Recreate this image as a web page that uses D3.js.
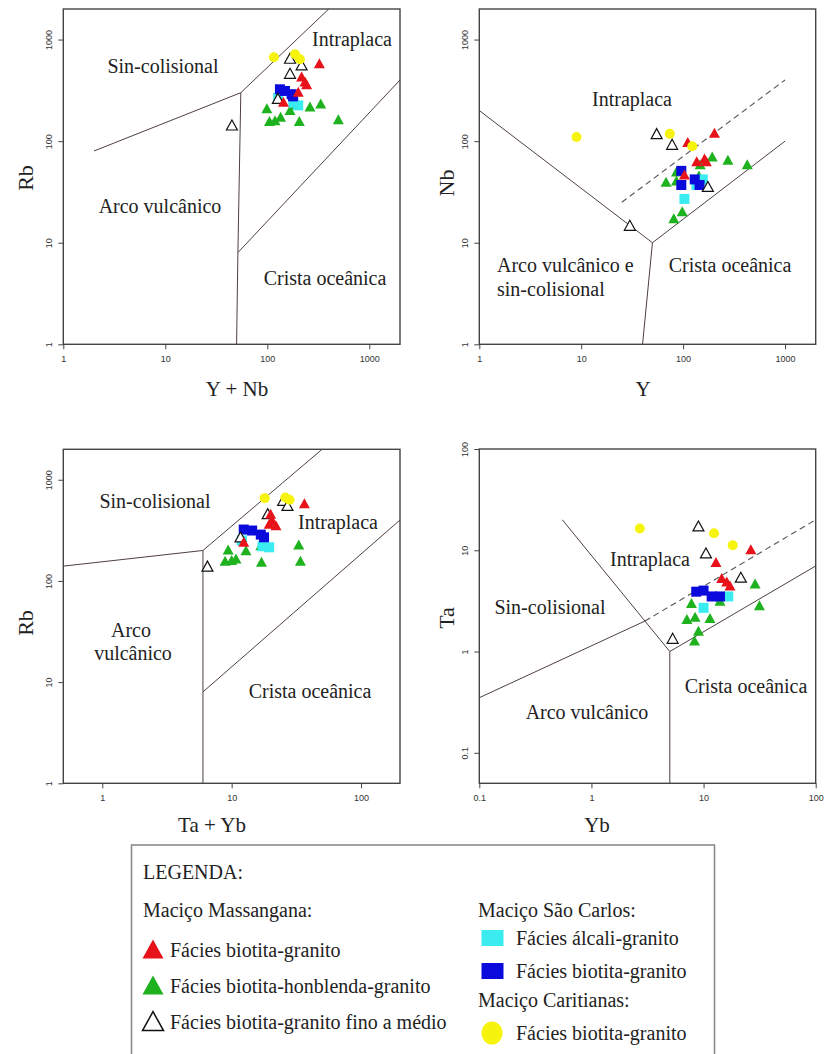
<!DOCTYPE html>
<html>
<head>
<meta charset="utf-8">
<script src="https://cdn.jsdelivr.net/npm/d3@7"></script>
<style>
  html, body { margin: 0; padding: 0; background: #fff; }
  svg { display: block; }
  text { font-family: "Liberation Serif", "Times New Roman", serif; fill: #222; }
  .tick-label { font-family: "Liberation Sans Narrow", "Liberation Sans", sans-serif; font-size: 9px; fill: #333; }
</style>
</head>
<body>
<svg id="chart" width="824" height="1054"></svg>
<script>
// ---- data ----
// panel 1: Rb vs Y + Nb
const p1Red    = [[324,571],[217,423],[234,377],[243,355],[201,300],[144,239]];
const p1Green  = [[99,206],[105,154],[119,157],[135,170],[167,198],[206,154],[262,214],[334,230],[497,161],[186,225]];
const p1Open   = [[167,640],[217,550],[167,455],[127,258],[45,141]];
const p1Blue   = [[133,324],[149,312],[173,290],[179,276]];
const p1Cyan   = [[128,268],[180,239],[201,225]];
const p1Yellow = [[116,670],[187,718],[209,640]];
const p1Lines  = [[[2,80],[55,300]], [[55,300],[400,2000]], [[55,300],[51.5,8]], [[51.5,8],[50,1]], [[51.5,8],[2000,400]]];
const p1Dashed = [];

// panel 2: Nb vs Y
const p2Red    = [[111,96],[203,118],[136,62],[162,66],[169,62],[103,46]];
const p2Green  = [[68,39],[86,49],[86,40],[147,58],[193,69],[275,64],[426,58],[81,17],[98,20],[143,45]];
const p2Open   = [[55,116],[78,91],[175,35],[30,14.5]];
const p2Blue   = [[96,51],[96,37],[130,42],[145,37]];
const p2Cyan   = [[103,27],[135,37],[156,42]];
const p2Yellow = [[9,110],[74,118],[123,89]];
const p2Lines  = [[[1,200],[50,10]], [[50,10],[1000,100]], [[50,10],[40,1]]];
const p2Dashed = [[[25,25],[1000,400]]];

// panel 3: Rb vs Ta + Yb
const p3Red    = [[36.5,574],[20,452],[20.6,388],[19.5,360],[22,347],[12.4,238]];
const p3Green  = [[9.4,200],[8.9,155],[10,157],[10.8,163],[12.9,197],[16.8,220],[17,151],[33,224],[34,155]];
const p3Open   = [[25,611],[27,545],[19,452],[11.7,266],[6.5,137]];
const p3Blue   = [[12.4,322],[14.4,315],[16.8,287],[17.8,270]];
const p3Cyan   = [[12,252],[17.3,220],[19.5,215]];
const p3Yellow = [[18,658],[26,668],[28,634]];
const p3Lines  = [[[0.5,140],[6,200]], [[6,200],[50,2000]], [[6,200],[6,1]], [[6,8],[200,400]]];
const p3Dashed = [];

// panel 4: Ta vs Yb
const p4Red    = [[26.4,10],[12.9,7.5],[14.5,5.2],[16.1,4.8],[17.2,4.4]];
const p4Green  = [[7.8,2.95],[7.1,2.05],[8.4,2.16],[11.4,2.09],[9.0,1.57],[8.3,1.26],[14,3.1],[28.8,4.6],[31.5,2.8]];
const p4Open   = [[9.0,17],[10.5,9.2],[21.5,5.3],[5.3,1.32]];
const p4Blue   = [[8.6,3.9],[10,4.0],[11.8,3.5],[14,3.5]];
const p4Cyan   = [[10,2.7],[16.6,3.5]];
const p4Yellow = [[2.7,16.4],[12.4,14.7],[18.2,11.2]];
const p4Lines  = [[[0.1,0.35],[3,2]], [[0.55,20],[5,1]], [[5,1],[5,0.05]], [[5,1],[100,7]]];
const p4Dashed = [[[3,2],[100,20]]];

// tick values
const ticksWide   = [1, 10, 100, 1000];
const ticksTaYb   = [1, 10, 100];
const ticksTaY    = [0.1, 1, 10, 100];
const ticksYbX    = [0.1, 1, 10, 100];

// legend entries
const legendLeft  = ["Fácies biotita-granito", "Fácies biotita-honblenda-granito", "Fácies biotita-granito fino a médio"];
const legendRight = ["Fácies álcali-granito", "Fácies biotita-granito", "Fácies biotita-granito"];

const COLORS = { red: "#e8121a", green: "#1fb21f", blue: "#0a0adc", cyan: "#3aecf0", yellow: "#f6f40c" };

const svg = d3.select("#chart");

function triPath(w, h) {
  return `M0,${-h * 0.6}L${w / 2},${h * 0.4}L${-w / 2},${h * 0.4}Z`;
}

function drawPanel(cfg) {
  const { x, y } = cfg;
  const g = svg.append("g");
  const [x0, x1] = x.range();
  const [y0, y1] = y.range();

  const line = d3.line().x(d => x(d[0])).y(d => y(d[1]));
  g.selectAll(".bound").data(cfg.lines).join("path")
    .attr("d", line).attr("fill", "none")
    .attr("stroke", "#4e3f42").attr("stroke-width", 1);
  g.selectAll(".dash").data(cfg.dashed).join("path")
    .attr("d", line).attr("fill", "none")
    .attr("stroke", "#555").attr("stroke-width", 1.1)
    .attr("stroke-dasharray", "6,4");

  // markers
  const tri = triPath(11, 10);
  const s = cfg.series;
  g.selectAll(".green").data(s.green).join("path")
    .attr("d", tri).attr("fill", COLORS.green)
    .attr("transform", d => `translate(${x(d[0])},${y(d[1])})`);
  g.selectAll(".cyan").data(s.cyan).join("rect")
    .attr("x", d => x(d[0]) - 5).attr("y", d => y(d[1]) - 5)
    .attr("width", 10).attr("height", 10).attr("fill", COLORS.cyan);
  g.selectAll(".blue").data(s.blue).join("rect")
    .attr("x", d => x(d[0]) - 5).attr("y", d => y(d[1]) - 5)
    .attr("width", 10).attr("height", 10).attr("fill", COLORS.blue);
  g.selectAll(".open").data(s.open).join("path")
    .attr("d", tri).attr("fill", "#fff").attr("stroke", "#111").attr("stroke-width", 1.2)
    .attr("transform", d => `translate(${x(d[0])},${y(d[1])})`);
  g.selectAll(".red").data(s.red).join("path")
    .attr("d", tri).attr("fill", COLORS.red)
    .attr("transform", d => `translate(${x(d[0])},${y(d[1])})`);
  g.selectAll(".yellow").data(s.yellow).join("circle")
    .attr("cx", d => x(d[0])).attr("cy", d => y(d[1]))
    .attr("r", 5).attr("fill", COLORS.yellow);

  // frame
  g.append("rect")
    .attr("x", x0).attr("y", y1).attr("width", x1 - x0).attr("height", y0 - y1)
    .attr("fill", "none").attr("stroke", "#444").attr("stroke-width", 1.4);

  // x axis
  const xa = g.append("g").attr("transform", `translate(0,${y0})`)
    .call(d3.axisBottom(x).tickValues(cfg.xTicks).tickSize(5).tickFormat(d3.format("~g")));
  xa.select(".domain").remove();
  xa.selectAll("line").attr("stroke", "#444");
  xa.selectAll("text").attr("class", "tick-label").attr("dy", "1.1em");

  // y axis, labels rotated like R's default
  const ya = g.append("g").attr("transform", `translate(${x0},0)`)
    .call(d3.axisLeft(y).tickValues(cfg.yTicks).tickSize(5).tickFormat(d3.format("~g")));
  ya.select(".domain").remove();
  ya.selectAll("line").attr("stroke", "#444");
  ya.selectAll("text").attr("class", "tick-label")
    .attr("x", null).attr("dy", null)
    .attr("text-anchor", "middle")
    .attr("transform", "translate(-11,0) rotate(-90)");

  // axis titles
  g.append("text").attr("x", cfg.xTitle[1]).attr("y", cfg.xTitle[2])
    .attr("text-anchor", "middle").attr("font-size", 21).text(cfg.xTitle[0]);
  g.append("text")
    .attr("transform", `translate(${cfg.yTitle[1]},${cfg.yTitle[2]}) rotate(-90)`)
    .attr("text-anchor", "middle").attr("dy", "0.35em").attr("font-size", 22).text(cfg.yTitle[0]);

  // field names
  cfg.fields.forEach(f => {
    g.append("text").attr("x", f[1]).attr("y", f[2]).attr("dy", "0.33em")
      .attr("text-anchor", f[3] || "middle").attr("font-size", 20).text(f[0]);
  });
}

drawPanel({
  x: d3.scaleLog().domain([1, 2000]).range([63.3, 400]),
  y: d3.scaleLog().domain([1, 2000]).range([344.3, 9]),
  xTicks: ticksWide, yTicks: ticksWide,
  lines: p1Lines, dashed: p1Dashed,
  series: { red: p1Red, green: p1Green, open: p1Open, blue: p1Blue, cyan: p1Cyan, yellow: p1Yellow },
  xTitle: ["Y + Nb", 237, 396], yTitle: ["Rb", 25, 178],
  fields: [["Sin-colisional", 163, 66], ["Intraplaca", 352, 39], ["Arco vulcânico", 160, 206], ["Crista oceânica", 325, 278]]
});

drawPanel({
  x: d3.scaleLog().domain([1, 2000]).range([479.3, 815.7]),
  y: d3.scaleLog().domain([1, 2000]).range([344.3, 9]),
  xTicks: ticksWide, yTicks: ticksWide,
  lines: p2Lines, dashed: p2Dashed,
  series: { red: p2Red, green: p2Green, open: p2Open, blue: p2Blue, cyan: p2Cyan, yellow: p2Yellow },
  xTitle: ["Y", 643, 396], yTitle: ["Nb", 446, 183],
  fields: [["Intraplaca", 632, 99], ["Arco vulcânico e", 497, 265, "start"], ["sin-colisional", 497, 289, "start"], ["Crista oceânica", 730, 265]]
});

drawPanel({
  x: d3.scaleLog().domain([0.5, 200]).range([63.3, 400]),
  y: d3.scaleLog().domain([1, 2000]).range([783.3, 449.3]),
  xTicks: ticksTaYb, yTicks: ticksWide,
  lines: p3Lines, dashed: p3Dashed,
  series: { red: p3Red, green: p3Green, open: p3Open, blue: p3Blue, cyan: p3Cyan, yellow: p3Yellow },
  xTitle: ["Ta + Yb", 212, 832], yTitle: ["Rb", 25, 623],
  fields: [["Sin-colisional", 155, 501], ["Intraplaca", 338, 522], ["Arco", 131, 630], ["vulcânico", 133, 653], ["Crista oceânica", 310, 691]]
});

drawPanel({
  x: d3.scaleLog().domain([0.1, 100]).range([479.3, 815.7]),
  y: d3.scaleLog().domain([0.05, 100]).range([783.3, 449]),
  xTicks: ticksYbX, yTicks: ticksTaY,
  lines: p4Lines, dashed: p4Dashed,
  series: { red: p4Red, green: p4Green, open: p4Open, blue: p4Blue, cyan: p4Cyan, yellow: p4Yellow },
  xTitle: ["Yb", 597, 832], yTitle: ["Ta", 446, 618],
  fields: [["Intraplaca", 650, 559], ["Sin-colisional", 550, 607], ["Arco vulcânico", 587, 712], ["Crista oceânica", 746, 686]]
});

// ---- legend ----
const lg = svg.append("g");
lg.append("rect").attr("x", 131.5).attr("y", 845).attr("width", 583).attr("height", 230)
  .attr("fill", "#fff").attr("stroke", "#8a8a8a").attr("stroke-width", 1.6);

const lgText = (t, x, y) => lg.append("text").attr("x", x).attr("y", y).attr("dy", "0.33em")
  .attr("font-size", 20).text(t);

lgText("LEGENDA:", 143, 872);
lgText("Maciço Massangana:", 143, 910);
lgText("Maciço São Carlos:", 478, 910);
lgText("Maciço Caritianas:", 478, 1000);

const leftRows = [951, 987, 1023];
const bigTri = triPath(21, 19);
lg.append("path").attr("d", bigTri).attr("fill", COLORS.red).attr("transform", `translate(153,${leftRows[0]})`);
lg.append("path").attr("d", bigTri).attr("fill", COLORS.green).attr("transform", `translate(153,${leftRows[1]})`);
lg.append("path").attr("d", bigTri).attr("fill", "#fff").attr("stroke", "#111").attr("stroke-width", 1.5)
  .attr("transform", `translate(153,${leftRows[2]})`);
legendLeft.forEach((t, i) => lgText(t, 170, leftRows[i] - 1));

const rightRows = [938, 971, 1033];
lg.append("rect").attr("x", 481.5).attr("y", rightRows[0] - 8).attr("width", 22).attr("height", 16).attr("fill", COLORS.cyan);
lg.append("rect").attr("x", 481.5).attr("y", rightRows[1] - 8).attr("width", 22).attr("height", 16).attr("fill", COLORS.blue);
lg.append("ellipse").attr("cx", 492).attr("cy", rightRows[2]).attr("rx", 10.5).attr("ry", 11.5).attr("fill", COLORS.yellow);
legendRight.forEach((t, i) => lgText(t, 516, rightRows[i]));
</script>
</body>
</html>
